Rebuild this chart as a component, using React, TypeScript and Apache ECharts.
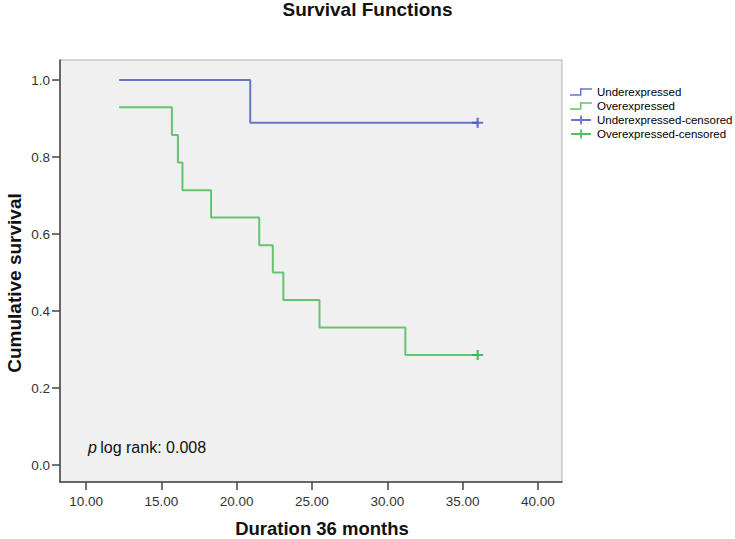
import React, { useEffect, useRef } from "react";
import * as echarts from "echarts";

const titleText = "Survival Functions";
const xAxisTitle = "Duration 36 months";
const yAxisTitle = "Cumulative survival";
const annotation = "log rank: 0.008";

const xTicks = [10, 15, 20, 25, 30, 35, 40];
const yTicks = [0, 0.2, 0.4, 0.6, 0.8, 1.0];

const underTimes = [12.2, 20.9, 36.0];
const underSurv = [1.0, 0.889, 0.889];
const overTimes = [12.2, 15.7, 16.1, 16.4, 18.3, 21.5, 22.4, 23.1, 25.5, 31.2, 36.0];
const overSurv = [0.929, 0.857, 0.786, 0.714, 0.643, 0.571, 0.5, 0.429, 0.357, 0.286, 0.286];
const underCensorTimes = [36.0];
const underCensorSurv = [0.889];
const overCensorTimes = [36.0];
const overCensorSurv = [0.286];

const seriesNames = [
  "Underexpressed",
  "Overexpressed",
  "Underexpressed-censored",
  "Overexpressed-censored",
];

const FONT = "'Liberation Sans', Arial, Helvetica, sans-serif";
const BLUE = "#6677c8";
const GREEN = "#66c46e";
const BLUE_C = "#3f51b8";
const GREEN_C = "#2eaa40";

const stepIcon =
  "path://M0,6.5L10,6.5L10,0.5L22,0.5L22,2L11.5,2L11.5,8L0,8Z";
const plusIconLegend =
  "path://M0,4L10,4L10,0L12,0L12,4L22,4L22,6L12,6L12,10L10,10L10,6L0,6Z";
const plusSymbol =
  "path://M4,0L6,0L6,4L10,4L10,6L6,6L6,10L4,10L4,6L0,6L0,4L4,4Z";

const zip = (a: number[], b: number[]) => a.map((v, i) => [v, b[i]]);

export default function App() {
  const ref = useRef<HTMLDivElement>(null);
  useEffect(() => {
    if (!ref.current) return;
    const chart = echarts.init(ref.current, null, { renderer: "svg" });
    chart.setOption({
      animation: false,
      backgroundColor: "#ffffff",
      textStyle: { fontFamily: FONT },
      title: {
        text: titleText,
        left: "center",
        top: 0,
        padding: 0,
        textStyle: { fontFamily: FONT, fontSize: 19, fontWeight: "bold", color: "#111" },
      },
      grid: {
        left: 60,
        right: 173,
        top: 60,
        bottom: 57,
        show: true,
        backgroundColor: "#f0f0f0",
        borderColor: "#b0b0b0",
        borderWidth: 1,
      },
      legend: {
        data: [
          { name: seriesNames[0], icon: stepIcon },
          { name: seriesNames[1], icon: stepIcon },
          { name: seriesNames[2], icon: plusIconLegend },
          { name: seriesNames[3], icon: plusIconLegend },
        ],
        orient: "vertical",
        left: 570,
        top: 85,
        padding: 0,
        itemGap: 0,
        itemWidth: 22,
        itemHeight: 9,
        textStyle: { fontFamily: FONT, fontSize: 11.5, color: "#000", lineHeight: 14 },
        selectedMode: false,
      },
      xAxis: {
        type: "value",
        min: 8.27,
        max: 41.6,
        splitLine: { show: false },
        axisLine: { show: true, onZero: false, lineStyle: { color: "#444", width: 1.5 } },
        axisTick: {
          show: true,
          length: 8,
          customValues: xTicks,
          lineStyle: { color: "#444", width: 1.5 },
        },
        axisLabel: {
          customValues: xTicks,
          formatter: (v: number) => v.toFixed(2),
          fontFamily: FONT,
          fontSize: 13.5,
          color: "#333",
          margin: 12,
        },
      },
      yAxis: {
        type: "value",
        min: -0.044,
        max: 1.052,
        splitLine: { show: false },
        axisLine: { show: true, onZero: false, lineStyle: { color: "#444", width: 1.5 } },
        axisTick: {
          show: true,
          length: 8,
          customValues: yTicks,
          lineStyle: { color: "#444", width: 1.5 },
        },
        axisLabel: {
          customValues: yTicks,
          formatter: (v: number) => v.toFixed(1),
          fontFamily: FONT,
          fontSize: 13.5,
          color: "#333",
          margin: 10,
        },
      },
      graphic: [
        {
          type: "text",
          x: 322,
          y: 528,
          style: {
            text: xAxisTitle,
            font: `bold 18.5px ${FONT}`,
            fill: "#111",
            align: "center",
            verticalAlign: "middle",
          },
        },
        {
          type: "text",
          x: 14,
          y: 283,
          rotation: Math.PI / 2,
          style: {
            text: yAxisTitle,
            font: `bold 19px ${FONT}`,
            fill: "#111",
            align: "center",
            verticalAlign: "middle",
          },
        },
        {
          type: "text",
          x: 88,
          y: 447,
          style: {
            text: "{i|p} {n|" + annotation + "}",
            verticalAlign: "middle",
            rich: {
              i: { fontFamily: FONT, fontSize: 16, fontStyle: "italic", fill: "#111" },
              n: { fontFamily: FONT, fontSize: 16, fill: "#111" },
            },
          },
        },
      ],
      series: [
        {
          name: seriesNames[0],
          type: "line",
          step: "end",
          data: zip(underTimes, underSurv),
          showSymbol: false,
          symbol: "none",
          color: BLUE,
          lineStyle: { color: BLUE, width: 2 },
          z: 3,
        },
        {
          name: seriesNames[1],
          type: "line",
          step: "end",
          data: zip(overTimes, overSurv),
          showSymbol: false,
          symbol: "none",
          color: GREEN,
          lineStyle: { color: GREEN, width: 2 },
          z: 3,
        },
        {
          name: seriesNames[2],
          type: "scatter",
          data: zip(underCensorTimes, underCensorSurv),
          symbol: plusSymbol,
          symbolSize: [11, 10],
          color: BLUE_C,
          itemStyle: { color: BLUE_C },
          z: 4,
        },
        {
          name: seriesNames[3],
          type: "scatter",
          data: zip(overCensorTimes, overCensorSurv),
          symbol: plusSymbol,
          symbolSize: [11, 10],
          color: GREEN_C,
          itemStyle: { color: GREEN_C },
          z: 4,
        },
      ],
    });
    return () => chart.dispose();
  }, []);
  return <div ref={ref} style={{ width: 735, height: 539, position: "absolute", left: 0, top: 0 }} />;
}
